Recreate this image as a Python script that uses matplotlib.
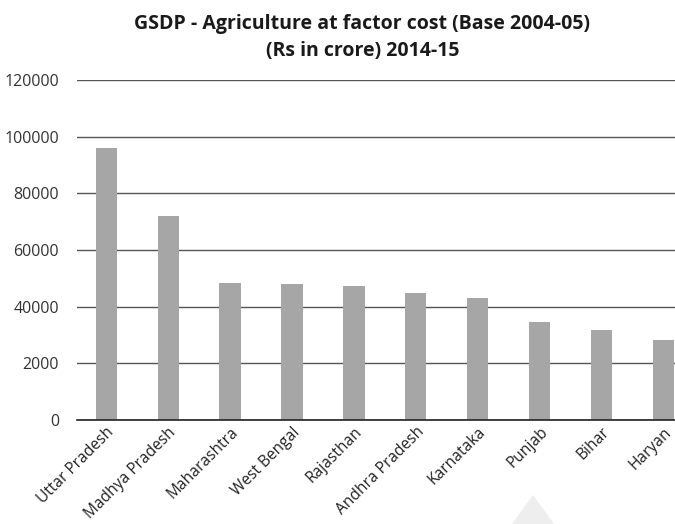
import matplotlib.pyplot as plt
from matplotlib.patches import Polygon
from matplotlib.ticker import FixedLocator

states = ['Uttar Pradesh', 'Madhya Pradesh', 'Maharashtra', 'West Bengal',
          'Rajasthan', 'Andhra Pradesh', 'Karnataka', 'Punjab', 'Bihar', 'Haryan']
gsdp_agri = [95900, 72000, 48300, 48000, 47300, 44800, 43000, 34600, 31700, 28200]
ytick_vals = [0, 20000, 40000, 60000, 80000, 100000, 120000]
ytick_text = ['0', '2000', '40000', '60000', '80000', '100000', '120000']

plt.rcParams['font.family'] = ['Open Sans', 'DejaVu Sans']

fig = plt.figure(figsize=(6.75, 5.24), dpi=100)
ax = fig.add_axes([0.114, 0.1985, 0.886, 0.6485])

ax.bar(range(len(states)), gsdp_agri, width=0.34, color='#a6a6a6', zorder=2)

ax.set_ylim(0, 120000)
ax.set_xlim(-0.47, 9.18)
ax.yaxis.set_major_locator(FixedLocator(ytick_vals))
ax.set_yticklabels(ytick_text, fontsize=11.5, color='#333333')
ax.tick_params(axis='y', length=0, pad=13)
ax.grid(axis='y', color='#555555', linewidth=1, zorder=1)

# rotated state names, anchored at their right end under each bar
ax.set_xticks(range(len(states)))
ax.set_xticklabels(states, rotation=45, ha='right', rotation_mode='anchor',
                   fontsize=11.2, color='#222222')
ax.tick_params(axis='x', length=0, pad=3)

for side in ['top', 'right', 'left']:
    ax.spines[side].set_visible(False)
ax.spines['bottom'].set_color('#222222')
ax.spines['bottom'].set_linewidth(1.2)

fig.text(0.537, 0.955, 'GSDP - Agriculture at factor cost (Base 2004-05)',
         ha='center', va='center', fontsize=14, fontweight='bold', color='#1a1a1a')
fig.text(0.537, 0.902, '(Rs in crore) 2014-15',
         ha='center', va='center', fontsize=14, fontweight='bold', color='#1a1a1a')

# faint triangle near the bottom edge
tri = Polygon([[533 / 675, 1 - 495 / 524], [512 / 675, 0], [554 / 675, 0]],
              closed=True, transform=fig.transFigure, facecolor='#eeeeee',
              edgecolor='none')
fig.patches.append(tri)

fig.savefig('out.png', dpi=100)
